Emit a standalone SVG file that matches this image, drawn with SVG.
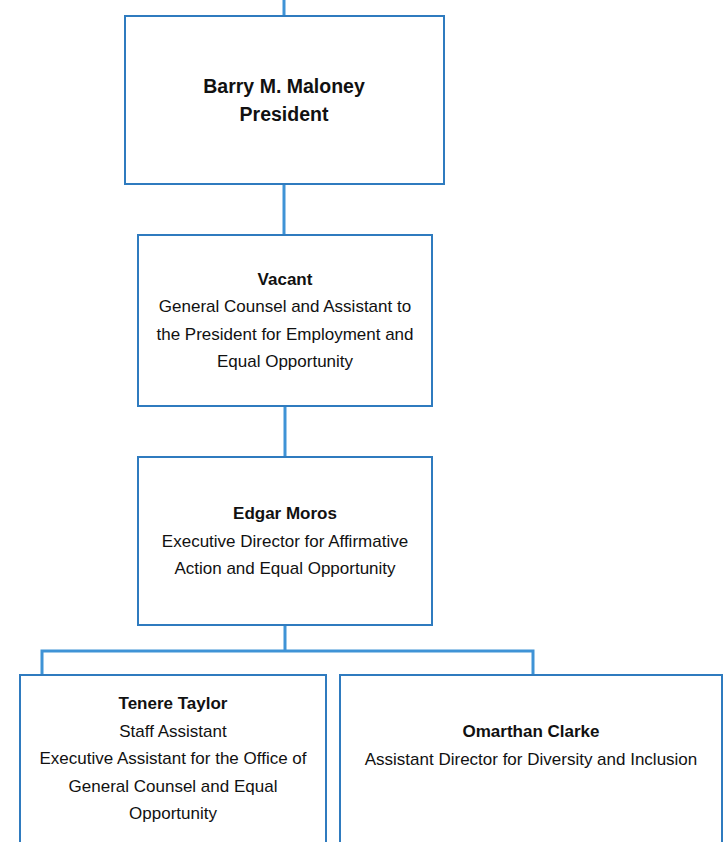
<svg xmlns="http://www.w3.org/2000/svg" width="728" height="842" viewBox="0 0 728 842">
<style>
.box{fill:#fff;stroke:#2f7bbf;stroke-width:2}
.conn{stroke:#3f93d6;stroke-width:3;fill:none}
text{font-family:"Liberation Sans",Arial,sans-serif;font-size:17px;fill:#111;text-anchor:middle}
.b{font-weight:bold}
text.big{font-size:19.5px}
</style>
<rect width="728" height="842" fill="#fff"/>
<g id="connectors">
<line class="conn" x1="284" y1="0" x2="284" y2="16"/>
<line class="conn" x1="284" y1="184" x2="284" y2="235"/>
<line class="conn" x1="285" y1="406" x2="285" y2="457"/>
<path class="conn" d="M285 625 V651 M42 675 V651 H533 V675"/>
</g>
<g id="president">
<rect class="box" x="125" y="16" width="319" height="168"/>
<text class="b big" x="284" y="93">Barry M. Maloney</text>
<text class="b big" x="284" y="121">President</text>
</g>
<g id="general-counsel">
<rect class="box" x="138" y="235" width="294" height="171"/>
<text class="b" x="285" y="285">Vacant</text>
<text x="285" y="312">General Counsel and Assistant to</text>
<text x="285" y="340">the President for Employment and</text>
<text x="285" y="367">Equal Opportunity</text>
</g>
<g id="executive-director">
<rect class="box" x="138" y="457" width="294" height="168"/>
<text class="b" x="285" y="519">Edgar Moros</text>
<text x="285" y="547">Executive Director for Affirmative</text>
<text x="285" y="574">Action and Equal Opportunity</text>
</g>
<g id="staff-assistant">
<rect class="box" x="20" y="675" width="306" height="200"/>
<text class="b" x="173" y="709">Tenere Taylor</text>
<text x="173" y="737">Staff Assistant</text>
<text x="173" y="764">Executive Assistant for the Office of</text>
<text x="173" y="792">General Counsel and Equal</text>
<text x="173" y="819">Opportunity</text>
</g>
<g id="assistant-director">
<rect class="box" x="340" y="675" width="382" height="200"/>
<text class="b" x="531" y="737">Omarthan Clarke</text>
<text x="531" y="765">Assistant Director for Diversity and Inclusion</text>
</g>
</svg>
